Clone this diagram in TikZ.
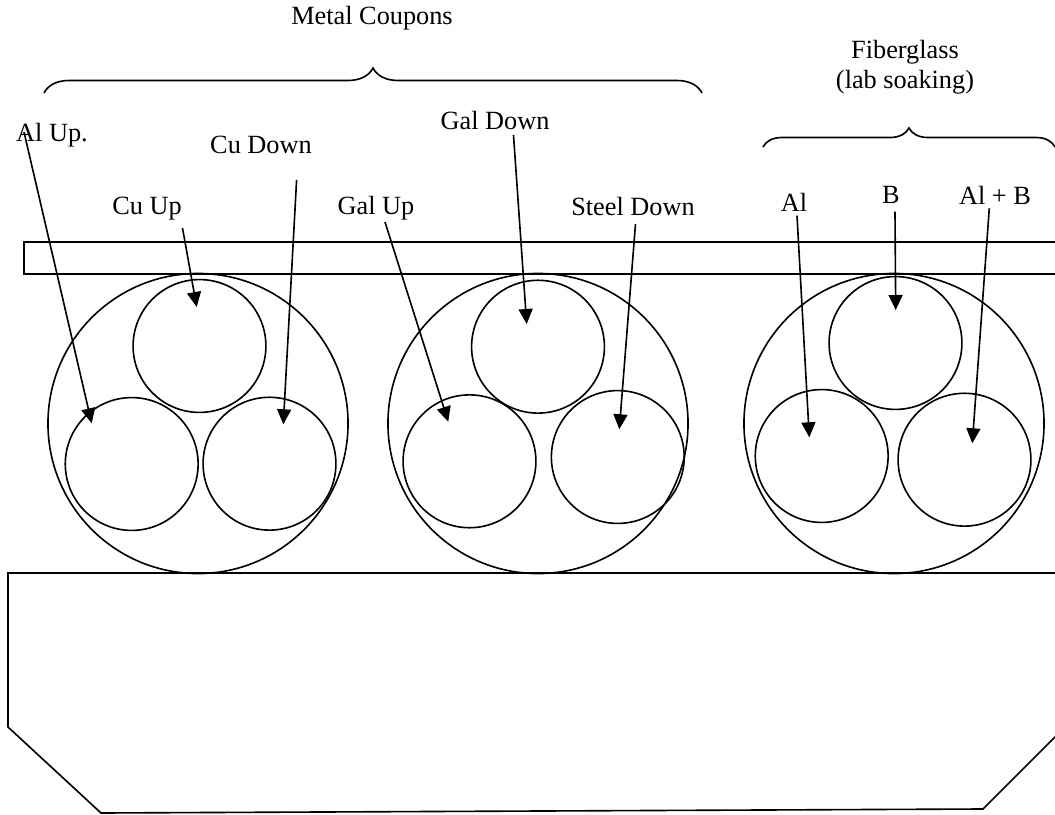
\documentclass[tikz,border=0pt]{standalone}
\usepackage{fontspec}
\setmainfont{Liberation Serif}
\usetikzlibrary{arrows.meta,decorations.pathreplacing}
\tikzset{
  bigcyl/.style={circle,draw,inner sep=0pt,minimum size=7.5cm},
  coupon/.style={circle,draw,inner sep=0pt,minimum size=3.32cm},
  lbl/.style={anchor=base,inner sep=0pt,font=\fontsize{18.7}{21.3}\selectfont},
  pointer/.style={-{Triangle[length=0.375cm,width=0.35cm]}},
  grp/.style={decorate,decoration={brace,amplitude=#1}}
}
\begin{document}
\begin{tikzpicture}[x=0.025cm,y=-0.025cm,line width=1.15pt]
    \useasboundingbox (0,0) rectangle (1055,815);
    \clip (0,0) rectangle (1055,815);
    % rod and base
    \draw (24,242) rectangle (1080,274);
    \draw (1080,573) -- (8,573) -- (8,727) -- (101,813) -- (983,809) -- (1080,712);
    % bundles
    \node[bigcyl] (cylA) at (198,423.5) {};
    \node[coupon] (cylA-top) at (199.5,346) {};
    \node[coupon] (cylA-left) at (131.7,464) {};
    \node[coupon] (cylA-right) at (269.5,463.7) {};
    \node[bigcyl] (cylB) at (538,423.5) {};
    \node[coupon] (cylB-top) at (538,346.7) {};
    \node[coupon] (cylB-left) at (469.5,461.3) {};
    \node[coupon] (cylB-right) at (617.8,457) {};
    \node[bigcyl] (cylC) at (894,423.5) {};
    \node[coupon] (cylC-top) at (895.5,343) {};
    \node[coupon] (cylC-left) at (821.7,456) {};
    \node[coupon] (cylC-right) at (964.5,459.7) {};
    % group braces
    \draw[grp=0.625cm] (44,93) -- (702,93);
    \draw[grp=0.475cm] (763,147) -- (1055,147);
    \node[lbl] (metal) at (372,25) {Metal Coupons};
    \node[lbl,align=center] (glass) at (905,88) {Fiberglass\\(lab soaking)};
    % labels
    \node[lbl] (alup) at (52,141) {Al Up.};
    \node[lbl] (cudown) at (261,153) {Cu Down};
    \node[lbl] (cuup) at (147,214) {Cu Up};
    \node[lbl] (galup) at (376,214) {Gal Up};
    \node[lbl] (galdown) at (495,129) {Gal Down};
    \node[lbl] (steeldown) at (633,215) {Steel Down};
    \node[lbl] (al) at (794,211) {Al};
    \node[lbl] (b) at (891,203) {B};
    \node[lbl] (alb) at (995,204) {Al + B};
    % pointers
    \coordinate (alup-s) at (24,132);
    \coordinate (alup-e) at (91.7,423.3);
    \coordinate (cuup-s) at (182.5,228);
    \coordinate (cuup-e) at (196.7,307);
    \coordinate (cudown-s) at (296.6,180);
    \coordinate (cudown-e) at (283.3,424.3);
    \coordinate (galup-s) at (385,222);
    \coordinate (galup-e) at (448.3,421.7);
    \coordinate (galdown-s) at (513.5,135);
    \coordinate (galdown-e) at (526.7,324);
    \coordinate (steeldown-s) at (635.5,224);
    \coordinate (steeldown-e) at (619.3,429.3);
    \coordinate (al-s) at (797,215.7);
    \coordinate (al-e) at (809.3,437.3);
    \coordinate (b-s) at (895,211.7);
    \coordinate (b-e) at (895.7,310);
    \coordinate (alb-s) at (989.3,208.3);
    \coordinate (alb-e) at (972.3,443.3);
    \draw[pointer] (alup-s) -- (alup-e);
    \draw[pointer] (cuup-s) -- (cuup-e);
    \draw[pointer] (cudown-s) -- (cudown-e);
    \draw[pointer] (galup-s) -- (galup-e);
    \draw[pointer] (galdown-s) -- (galdown-e);
    \draw[pointer] (steeldown-s) -- (steeldown-e);
    \draw[pointer] (al-s) -- (al-e);
    \draw[pointer] (b-s) -- (b-e);
    \draw[pointer] (alb-s) -- (alb-e);
\end{tikzpicture}
\end{document}
